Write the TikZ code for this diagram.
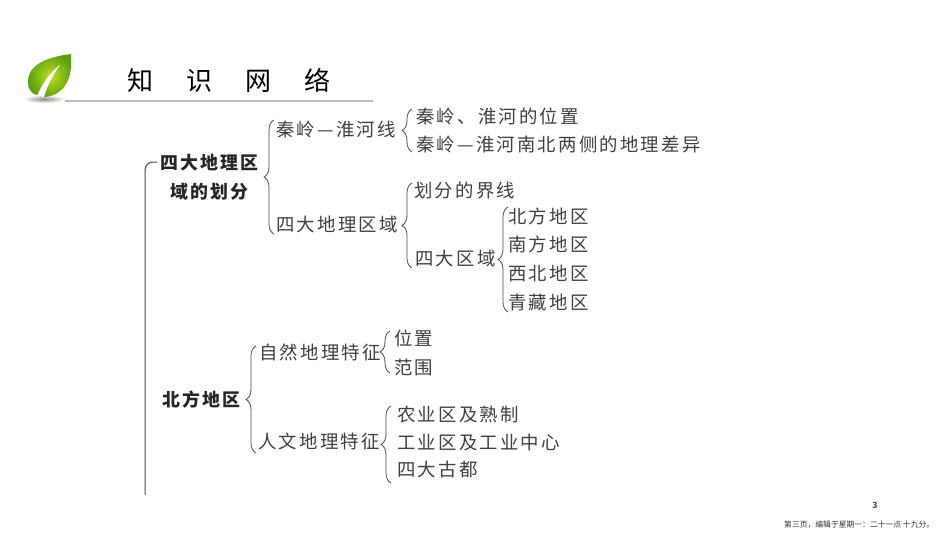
\documentclass[tikz,border=0pt]{standalone}
\usepackage{fontspec}
\setmainfont{Noto Sans CJK SC}
\newfontfamily\spaced[LetterSpace=12]{Noto Sans CJK SC}
\usetikzlibrary{positioning}
\usetikzlibrary{decorations.pathreplacing}
\definecolor{leafdark}{HTML}{5AA010}
\definecolor{leaflight}{HTML}{BEDF1E}
\definecolor{ink}{HTML}{404040}
\tikzset{
x=1pt, y=-1pt,
item/.style={anchor=west, inner sep=0pt, text=ink, font=\spaced\fontsize{18.4}{18}\selectfont}, % ordinary entry
head/.style={item, text=black!85, font=\spaced\fontsize{17.9}{18}\selectfont\bfseries}, % bold entry
brc/.style={draw=black!70, line width=.8pt, decorate, decoration={brace, amplitude=10pt}}, % curly bracket
}

\begin{document}
\begin{tikzpicture}
            \path[use as bounding box, fill=white] (0,0) rectangle (950,535);

            % leaf
            \shade[inner color=black!45, outer color=white] (44,99) ellipse (21 and 4);
            \shade[inner color=leaflight, outer color=leafdark]
                (71,54) .. controls (48,57) and (28,64) .. (28,82)
                .. controls (28,90) and (32,94) .. (37,95)
                .. controls (40,97) and (43,98) .. (46,97)
                .. controls (64,94) and (73,80) .. (71,54) -- cycle;
            \fill[white] (37,96) .. controls (42,84) and (50,72) .. (60,65)
                .. controls (53,75) and (47,86) .. (44,97) -- cycle;

            % title
            \node[anchor=west, inner sep=0pt, text=black, font=\fontsize{26}{26}\selectfont] (title) at (127,80) {知\hspace{33pt}识\hspace{33pt}网\hspace{33pt}络};
            \coordinate (ruleL) at (65,101);
            \coordinate (ruleR) at (373,101);
            \draw[black!25, line width=2pt] (ruleL) -- (ruleR);

            % first block
            \node[head] (fourA) at (160,163) {四大地理区};
            \node[head] (fourB) at (170,192) {域的划分};
            \node[item] (qinling) at (276,129) {秦岭—淮河线};
            \node[item] (regions) at (276,224) {四大地理区域};
            \node[item] (place) at (416,116) {秦岭、淮河的位置};
            \node[item] (diff) at (416,144) {秦岭—淮河南北两侧的地理差异};
            \node[item] (border) at (414,191) {划分的界线};
            \node[item] (four) at (415,259) {四大区域};
            \node[item, node distance=28.7pt] (north) at (508,216) {北方地区};
            \node[item, node distance=28.7pt, below of=north] (south) {南方地区};
            \node[item, node distance=28.7pt, below of=south] (west) {西北地区};
            \node[item, node distance=28.7pt, below of=west] (tibet) {青藏地区};

            % second block
            \node[head] (northB) at (162,400) {北方地区};
            \node[item] (nature) at (259,352) {自然地理特征};
            \node[item] (human) at (258,441) {人文地理特征};
            \node[item] (pos) at (394,338) {位置};
            \node[item] (range) at (394,367) {范围};
            \node[item] (farm) at (397,414) {农业区及熟制};
            \node[item] (industry) at (397,442) {工业区及工业中心};
            \node[item] (capital) at (397,470) {四大古都};

            % bracket ends
            \coordinate (mainT) at (157,162);
            \coordinate (mainB) at (145,495);
            \coordinate (fourT) at (274,120);
            \coordinate (fourE) at (274,234);
            \coordinate (qinT) at (412,109);
            \coordinate (qinB) at (412,152);
            \coordinate (regT) at (412,183);
            \coordinate (regB) at (412,268);
            \coordinate (areaT) at (508,207);
            \coordinate (areaB) at (508,312);
            \coordinate (northT) at (256,346);
            \coordinate (northE) at (256,453);
            \coordinate (natT) at (390,331);
            \coordinate (natB) at (390,373);
            \coordinate (humT) at (391,406);
            \coordinate (humB) at (391,483);

            \draw[black!70, line width=1pt, rounded corners=8pt] (mainT) -| (mainB);
            \draw[brc] (fourE) -- (fourT);
            \draw[brc] (qinB) -- (qinT);
            \draw[brc] (regB) -- (regT);
            \draw[brc] (areaB) -- (areaT);
            \draw[brc] (northE) -- (northT);
            \draw[brc] (natB) -- (natT);
            \draw[brc] (humB) -- (humT);

            % page footer
            \node[inner sep=0pt, text=black!50!olive, font=\fontsize{8.5}{9}\selectfont\bfseries] (pageno) at (875,505) {3};
            \node[anchor=west, inner sep=0pt, text=black!80, font=\fontsize{7.8}{8}\selectfont] (footer) at (784,525) {第三页，编辑于星期一：二十一点 十九分。};
\end{tikzpicture}
\end{document}
